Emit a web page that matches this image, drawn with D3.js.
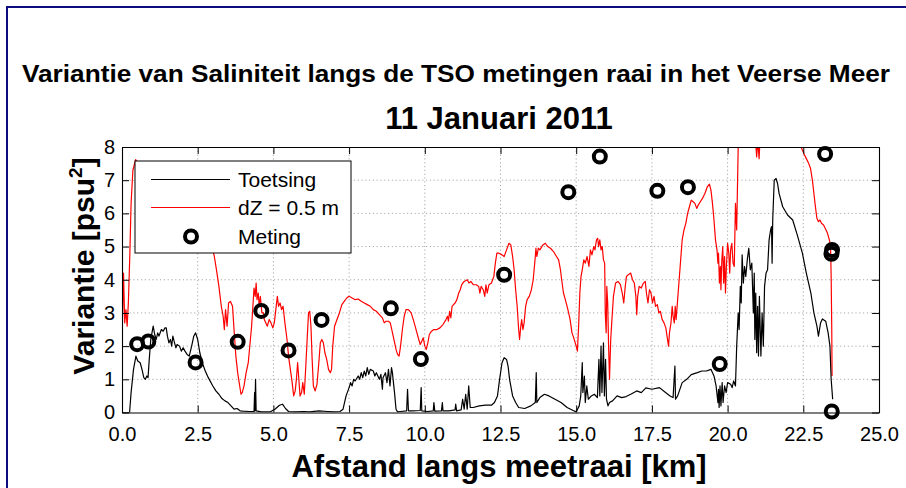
<!DOCTYPE html>
<html>
<head>
<meta charset="utf-8">
<script src="https://cdn.jsdelivr.net/npm/d3@7"></script>
<style>
html,body{margin:0;padding:0;background:#fff;}
svg{display:block;font-family:"Liberation Sans",Arial,Helvetica,sans-serif;}
</style>
</head>
<body>
<div id="chart"></div>
<script>
// ---- Data ----
const xTicks = [0, 2.5, 5, 7.5, 10, 12.5, 15, 17.5, 20, 22.5, 25];
const xTickLabels = ["0.0","2.5","5.0","7.5","10.0","12.5","15.0","17.5","20.0","22.5","25.0"];
const yTicks = [0,1,2,3,4,5,6,7,8];
const yTickLabels = ["0","1","2","3","4","5","6","7","8"];
const seriesNames = ["Toetsing", "dZ = 0.5 m", "Meting"];

// Toetsing (black): [km, variance]
const toetsing = [
[0,0],[0.25,0],[0.3,0.6],[0.38,1.3],[0.46,1.7],[0.52,1.55],[0.6,1.5],[0.66,1.3],[0.72,1.05],[0.77,1.0],[0.82,1.1],[0.86,1.05],
[0.9,1.6],[0.95,2.2],[1.0,2.45],[1.03,2.6],[1.08,2.35],[1.13,2.2],[1.18,2.4],[1.22,2.3],[1.3,2.5],[1.36,2.45],[1.42,2.55],[1.46,2.55],
[1.5,2.3],[1.55,2.1],[1.6,2.2],[1.64,2.0],[1.68,2.3],[1.72,2.15],[1.78,1.95],[1.82,2.05],[1.9,2.0],[1.96,1.85],[2.02,1.95],[2.08,1.85],
[2.15,1.75],[2.22,1.7],[2.3,2.0],[2.37,2.3],[2.43,2.4],[2.5,2.2],[2.57,1.8],[2.65,1.5],[2.75,1.25],[2.85,1.05],[3.0,0.8],[3.1,0.65],
[3.2,0.55],[3.3,0.42],[3.4,0.35],[3.5,0.3],[3.6,0.2],[3.7,0.1],[3.8,0.12],[3.9,0.05],[4.0,0.04],[4.2,0.03],[4.36,0.03],[4.38,0.6],
[4.39,0.05],[4.41,1.0],[4.43,0.05],[4.6,0.02],[4.9,0.02],[5.05,0.1],[5.2,0.22],[5.3,0.25],[5.4,0.12],[5.5,0.03],[5.7,0.02],[6.0,0.03],
[6.2,0.02],[6.5,0.05],[6.8,0.03],[7.0,0.02],[7.2,0.03],[7.3,0.1],[7.4,0.5],[7.5,0.75],[7.55,0.9],[7.6,0.8],[7.65,1.0],[7.7,0.95],
[7.8,1.1],[7.85,1.0],[7.9,1.2],[7.95,1.05],[8.0,1.25],[8.05,1.1],[8.1,1.35],[8.15,1.15],[8.2,1.3],[8.3,1.25],[8.35,1.1],[8.4,1.2],
[8.5,1.0],[8.55,1.15],[8.6,0.7],[8.62,1.05],[8.7,1.2],[8.75,0.9],[8.8,1.3],[8.85,0.8],[8.9,1.35],[8.93,1.2],[9.0,0.6],[9.05,0.1],
[9.1,0.02],[9.2,0.03],[9.4,0.05],[9.43,0.7],[9.46,0.05],[9.6,0.05],[9.85,0.06],[9.88,0.75],[9.9,0.05],[10.1,0.03],[10.28,0.05],
[10.3,0.3],[10.33,0.04],[10.55,0.05],[10.58,0.3],[10.6,0.05],[10.8,0.05],[11.0,0.08],[11.02,0.25],[11.05,0.05],[11.2,0.08],
[11.25,0.4],[11.3,0.1],[11.35,0.55],[11.4,0.1],[11.45,0.8],[11.5,0.15],[11.6,0.15],[11.8,0.2],[12.0,0.22],[12.2,0.22],[12.3,0.3],
[12.4,0.5],[12.47,1.0],[12.55,1.5],[12.62,1.65],[12.7,1.6],[12.75,1.4],[12.8,1.0],[12.9,0.5],[13.0,0.3],[13.1,0.15],[13.3,0.12],
[13.5,0.2],[13.65,0.3],[13.68,1.2],[13.7,0.3],[13.8,0.45],[13.95,0.55],[14.1,0.5],[14.3,0.4],[14.5,0.3],[14.7,0.15],[14.9,0.06],
[15.0,0.02],[15.1,0.2],[15.15,0.5],[15.2,1.5],[15.22,0.6],[15.27,1.1],[15.3,0.3],[15.35,0.8],[15.4,0.4],[15.5,0.5],[15.6,0.55],
[15.7,0.45],[15.75,1.6],[15.78,0.5],[15.82,2.0],[15.85,0.6],[15.9,2.1],[15.93,0.5],[15.97,1.6],[16.0,0.4],[16.05,0.2],[16.1,0.3],
[16.2,0.35],[16.35,0.5],[16.5,0.45],[16.65,0.48],[16.8,0.55],[17.0,0.65],[17.15,0.6],[17.3,0.74],[17.5,0.7],[17.75,0.75],[17.95,0.6],
[18.1,0.5],[18.2,0.45],[18.26,1.4],[18.28,0.4],[18.35,0.5],[18.5,0.9],[18.65,1.0],[18.8,1.14],[19.0,1.2],[19.15,1.25],[19.3,1.25],
[19.45,1.3],[19.55,1.1],[19.62,0.8],[19.68,0.3],[19.7,0.7],[19.72,0.15],[19.75,0.8],[19.78,0.2],[19.82,0.9],[19.85,0.3],[19.9,0.8],
[19.95,0.6],[20.0,0.9],[20.1,0.85],[20.15,0.75],[20.2,0.95],[20.26,0.8],[20.3,2.0],[20.35,3.0],[20.38,2.5],[20.42,3.8],[20.45,3.3],
[20.48,4.75],[20.52,3.9],[20.56,4.4],[20.6,4.1],[20.65,4.6],[20.7,4.95],[20.75,4.3],[20.8,4.5],[20.85,3.0],[20.88,4.2],[20.9,2.2],
[20.93,3.6],[20.96,1.8],[20.99,3.2],[21.02,1.7],[21.05,3.5],[21.1,1.7],[21.14,3.0],[21.18,2.0],[21.22,3.8],[21.27,4.2],[21.32,4.3],
[21.37,5.2],[21.42,5.5],[21.45,5.6],[21.47,4.5],[21.49,5.8],[21.54,7.0],[21.6,7.05],[21.65,6.9],[21.7,6.6],[21.82,6.2],[21.98,5.95],
[22.15,5.8],[22.3,5.35],[22.47,4.8],[22.6,4.2],[22.75,3.6],[22.85,3.0],[22.95,2.6],[23.0,2.3],[23.07,2.7],[23.13,2.82],[23.24,2.75],
[23.32,2.4],[23.38,2.0],[23.42,1.0],[23.47,0.4]
];

// dZ = 0.5 m (red): [km, variance]
const dz05 = [
[0,0],[0.01,2.5],[0.05,4.2],[0.09,2.7],[0.13,3.1],[0.17,2.6],[0.21,3.3],[0.26,4.8],[0.3,6.3],[0.36,7.3],[0.45,7.62],
[0.6,7.4],[0.9,7.2],[1.3,6.9],[1.7,6.6],[2.1,6.3],[2.5,5.9],[2.8,5.4],[3.0,4.9],[3.05,4.7],[3.12,4.3],[3.2,3.8],[3.28,3.2],
[3.34,2.9],[3.38,2.5],[3.42,3.1],[3.47,2.6],[3.52,3.3],[3.58,3.35],[3.65,3.2],[3.7,2.5],[3.76,1.7],[3.82,1.2],[3.87,0.9],
[3.93,0.55],[3.97,0.6],[4.03,0.8],[4.1,1.2],[4.17,1.5],[4.23,2.1],[4.28,2.6],[4.33,3.3],[4.36,3.75],[4.4,3.5],[4.43,3.9],
[4.46,3.4],[4.5,3.6],[4.53,3.2],[4.57,3.5],[4.62,3.0],[4.67,3.0],[4.7,2.8],[4.75,2.7],[4.8,2.6],[4.86,2.8],[4.92,2.7],[4.98,2.55],
[5.03,2.7],[5.08,3.1],[5.13,3.5],[5.17,3.2],[5.22,3.3],[5.27,3.1],[5.32,3.2],[5.38,2.7],[5.45,2.2],[5.5,1.7],[5.56,1.3],[5.62,0.9],
[5.67,0.5],[5.72,0.65],[5.76,1.0],[5.8,1.5],[5.84,1.0],[5.88,0.5],[5.93,0.6],[5.97,0.9],[6.02,0.55],[6.07,1.4],[6.12,2.3],[6.16,3.0],
[6.2,3.05],[6.24,2.6],[6.28,1.6],[6.32,0.8],[6.38,0.65],[6.44,0.85],[6.5,1.5],[6.55,2.1],[6.6,2.2],[6.65,2.1],[6.7,1.8],[6.76,1.6],
[6.82,1.3],[6.88,1.2],[6.92,1.3],[6.96,2.0],[7.02,2.6],[7.1,2.8],[7.18,3.0],[7.26,3.25],[7.34,3.35],[7.42,3.45],[7.5,3.5],[7.6,3.45],
[7.7,3.4],[7.8,3.42],[7.9,3.35],[8.0,3.3],[8.1,3.25],[8.2,3.2],[8.3,3.1],[8.4,3.05],[8.5,2.95],[8.6,2.85],[8.66,2.7],[8.72,2.75],
[8.8,2.75],[8.86,2.7],[8.92,2.45],[8.98,2.2],[9.05,1.9],[9.1,1.75],[9.15,1.7],[9.2,2.0],[9.26,2.5],[9.32,2.9],[9.38,3.1],[9.46,3.1],
[9.55,3.0],[9.62,2.8],[9.68,2.6],[9.74,2.4],[9.8,2.2],[9.85,2.05],[9.9,2.15],[9.95,2.25],[10.0,2.0],[10.05,1.9],[10.1,2.1],
[10.15,2.35],[10.22,2.45],[10.3,2.5],[10.4,2.5],[10.5,2.55],[10.6,2.65],[10.7,2.8],[10.75,2.9],[10.78,2.75],[10.82,3.05],[10.86,2.85],
[10.9,3.2],[10.95,3.25],[11.0,3.3],[11.06,3.4],[11.12,3.6],[11.17,3.7],[11.22,3.85],[11.3,3.95],[11.4,4.0],[11.46,3.9],[11.52,3.95],
[11.6,3.85],[11.7,3.85],[11.78,3.8],[11.82,3.6],[11.86,3.8],[11.93,3.7],[11.98,3.5],[12.02,3.85],[12.06,3.6],[12.12,3.85],[12.2,3.9],
[12.28,4.1],[12.33,4.5],[12.38,4.8],[12.45,4.8],[12.55,4.75],[12.62,4.7],[12.7,4.9],[12.78,5.1],[12.84,5.05],[12.9,4.7],[12.95,4.3],
[13.0,3.7],[13.05,3.2],[13.1,2.5],[13.13,2.2],[13.17,2.6],[13.2,2.8],[13.24,2.5],[13.28,2.7],[13.33,3.2],[13.38,3.4],[13.45,3.5],
[13.52,3.7],[13.58,4.0],[13.64,4.6],[13.67,4.95],[13.7,4.7],[13.75,4.95],[13.8,4.9],[13.9,5.05],[13.98,5.1],[14.06,5.0],[14.15,4.95],
[14.25,4.85],[14.35,4.7],[14.42,4.6],[14.48,4.3],[14.52,4.0],[14.58,3.6],[14.64,3.4],[14.7,3.2],[14.75,3.0],[14.8,2.8],[14.86,2.4],
[14.9,2.3],[14.95,2.15],[15.0,2.0],[15.04,1.85],[15.08,2.6],[15.12,3.6],[15.16,4.1],[15.2,4.3],[15.25,4.6],[15.3,4.5],[15.36,4.7],
[15.42,4.4],[15.47,4.9],[15.52,4.75],[15.58,5.0],[15.62,4.9],[15.67,5.2],[15.71,5.25],[15.74,5.0],[15.78,5.2],[15.82,4.9],[15.86,5.0],
[15.9,4.6],[15.94,4.5],[15.96,3.0],[15.99,2.4],[16.01,3.8],[16.04,3.3],[16.07,2.0],[16.1,1.0],[16.14,2.2],[16.18,2.8],[16.23,3.5],
[16.3,3.9],[16.38,3.95],[16.46,3.85],[16.52,3.6],[16.57,3.3],[16.62,3.8],[16.66,4.1],[16.72,4.15],[16.8,4.2],[16.86,4.0],[16.92,3.9],
[16.97,3.5],[17.0,2.95],[17.03,3.5],[17.08,3.8],[17.15,3.75],[17.22,3.9],[17.28,3.95],[17.32,3.6],[17.37,3.3],[17.42,3.7],[17.47,3.6],
[17.52,3.3],[17.57,3.5],[17.62,3.2],[17.68,3.25],[17.73,3.0],[17.78,3.05],[17.84,2.8],[17.9,2.7],[17.96,2.55],[18.0,2.3],[18.05,2.0],
[18.08,2.4],[18.13,2.7],[18.17,3.2],[18.2,2.9],[18.24,2.7],[18.27,3.2],[18.3,2.8],[18.35,3.4],[18.4,4.0],[18.45,4.6],[18.5,5.2],
[18.56,5.5],[18.62,5.7],[18.68,6.0],[18.74,6.2],[18.8,6.4],[18.86,6.35],[18.92,6.3],[18.98,6.15],[19.03,6.25],[19.1,6.35],[19.17,6.45],
[19.25,6.6],[19.33,6.8],[19.4,6.88],[19.45,6.7],[19.5,6.3],[19.55,5.8],[19.6,5.2],[19.65,4.9],[19.68,4.5],[19.7,4.8],[19.73,3.9],
[19.76,4.4],[19.78,3.7],[19.81,4.6],[19.84,5.0],[19.87,3.9],[19.9,4.7],[19.93,3.6],[19.96,4.4],[20.0,5.1],[20.04,4.8],[20.07,4.2],
[20.1,4.9],[20.14,5.1],[20.18,4.5],[20.22,4.4],[20.26,6.3],[20.3,5.5],[20.33,7.0],[20.36,8.5],[20.5,9],[20.7,9],[20.9,8.5],
[20.96,7.7],[21.0,8.2],[21.04,7.65],[21.08,8.4],[21.3,9],[21.8,9],[22.2,8.6],[22.38,8.1],[22.45,7.95],[22.52,7.8],[22.6,7.65],
[22.68,7.5],[22.74,7.35],[22.8,7.0],[22.85,6.6],[22.9,6.2],[22.95,5.85],[23.0,5.75],[23.05,5.8],[23.1,5.7],[23.17,5.65],[23.25,5.5],
[23.3,5.4],[23.36,5.2],[23.4,5.05],[23.42,4.1],[23.44,2.5],[23.45,1.1]
];

// Meting (circles)
const metingKm  = [0.5, 0.87, 2.43, 3.82, 4.6, 5.5, 6.59, 8.88, 9.87, 12.62, 14.74, 15.78, 17.68, 18.69, 19.74, 23.22, 23.45, 23.43, 23.44];
const metingVal = [2.06, 2.14, 1.51, 2.13, 3.06, 1.87, 2.79, 3.14, 1.61, 4.15, 6.64, 7.71, 6.68, 6.79, 1.46, 7.79, 4.9, 4.78, 0.03];

const title1 = "Variantie van Saliniteit langs de TSO metingen raai in het Veerse Meer";
const title2 = "11 Januari 2011";
const xTitle = "Afstand langs meetraai [km]";
const yTitle = "Variantie [psu";

// ---- Drawing ----
(function draw() {
const W = 906, H = 488;
const svg = d3.select("#chart").append("svg").attr("width", W).attr("height", H);

// figure frame
svg.append("rect").attr("x", 7).attr("y", 7).attr("width", 920).attr("height", 500)
  .attr("fill", "#fff").attr("stroke", "#0c0c7e").attr("stroke-width", 2);

const pL = 122, pR = 879, pT = 147, pB = 412.5;
const x = d3.scaleLinear().domain([0, 25]).range([pL, pR]);
const y = d3.scaleLinear().domain([0, 8]).range([pB, pT]);

// grid
const grid = svg.append("g");
grid.selectAll("line.gx").data(xTicks.slice(1, -1)).enter().append("line")
  .attr("x1", d => x(d)).attr("x2", d => x(d)).attr("y1", pT).attr("y2", pB)
  .attr("stroke", "#a8a8a8").attr("stroke-width", 1).attr("stroke-dasharray", "1.2,2.6");
grid.selectAll("line.gy").data(yTicks.slice(1, -1)).enter().append("line")
  .attr("x1", pL).attr("x2", pR).attr("y1", d => y(d)).attr("y2", d => y(d))
  .attr("stroke", "#a8a8a8").attr("stroke-width", 1).attr("stroke-dasharray", "1.2,2.6");

// clip
svg.append("clipPath").attr("id", "clip").append("rect")
  .attr("x", pL).attr("y", pT).attr("width", pR - pL).attr("height", pB - pT);

const line = d3.line().x(d => x(d[0])).y(d => y(d[1]));
const plot = svg.append("g").attr("clip-path", "url(#clip)");
plot.append("path").datum(dz05).attr("d", line).attr("fill", "none")
  .attr("stroke", "#ff0000").attr("stroke-width", 1.2).attr("stroke-linejoin", "round");
plot.append("path").datum(toetsing).attr("d", line).attr("fill", "none")
  .attr("stroke", "#000").attr("stroke-width", 1.2).attr("stroke-linejoin", "round");

// circles
const meting = metingKm.map((k, i) => [k, metingVal[i]]);
svg.append("g").selectAll("circle").data(meting).enter().append("circle")
  .attr("cx", d => x(d[0])).attr("cy", d => y(d[1])).attr("r", 6)
  .attr("fill", "none").attr("stroke", "#000").attr("stroke-width", 4);

// axes (box with inward ticks)
const tickLen = 7;
const axB = svg.append("g").attr("transform", `translate(0,${pB})`)
  .call(d3.axisBottom(x).tickValues(xTicks).tickFormat((d, i) => xTickLabels[i]).tickSizeInner(-tickLen).tickSizeOuter(0).tickPadding(14));
const axT = svg.append("g").attr("transform", `translate(0,${pT})`)
  .call(d3.axisTop(x).tickValues(xTicks).tickFormat("").tickSizeInner(-tickLen).tickSizeOuter(0));
const axL = svg.append("g").attr("transform", `translate(${pL},0)`)
  .call(d3.axisLeft(y).tickValues(yTicks).tickFormat((d, i) => yTickLabels[i]).tickSizeInner(-tickLen).tickSizeOuter(0).tickPadding(7));
const axR = svg.append("g").attr("transform", `translate(${pR},0)`)
  .call(d3.axisRight(y).tickValues(yTicks).tickFormat("").tickSizeInner(-tickLen).tickSizeOuter(0));
[axB, axT, axL, axR].forEach(a => {
  a.select(".domain").attr("stroke", "#000").attr("stroke-width", 1.1);
  a.selectAll(".tick line").attr("stroke", "#000").attr("stroke-width", 1);
  a.selectAll("text").attr("font-family", '"Liberation Sans",Arial,sans-serif').attr("font-size", 20).attr("fill", "#000");
});
axB.selectAll("text").attr("dy", "0.71em");

// legend
const lg = svg.append("g");
lg.append("rect").attr("x", 135).attr("y", 161).attr("width", 216).attr("height", 92)
  .attr("fill", "#fff").attr("stroke", "#000").attr("stroke-width", 1);
const legRows = [179.5, 207.5, 236.5];
lg.append("line").attr("x1", 151).attr("x2", 230).attr("y1", legRows[0]).attr("y2", legRows[0]).attr("stroke", "#000").attr("stroke-width", 1.2);
lg.append("line").attr("x1", 151).attr("x2", 230).attr("y1", legRows[1]).attr("y2", legRows[1]).attr("stroke", "#ff0000").attr("stroke-width", 1.2);
lg.append("circle").attr("cx", 191).attr("cy", legRows[2]).attr("r", 6).attr("fill", "none").attr("stroke", "#000").attr("stroke-width", 4);
lg.selectAll("text").data(seriesNames).enter().append("text")
  .attr("x", 238).attr("y", (d, i) => legRows[i]).attr("dy", "0.36em")
  .attr("font-size", 21).attr("fill", "#000").text(d => d);

// titles
svg.append("text").attr("x", 22).attr("y", 82).attr("font-size", 23).attr("font-weight", "bold")
  .attr("textLength", 868).attr("lengthAdjust", "spacingAndGlyphs").text(title1);
svg.append("text").attr("x", 499).attr("y", 129).attr("text-anchor", "middle").attr("font-size", 31).attr("font-weight", "bold").text(title2);
svg.append("text").attr("x", 499).attr("y", 477).attr("text-anchor", "middle").attr("font-size", 31).attr("font-weight", "bold").text(xTitle);
const yt = svg.append("text").attr("transform", "translate(94,266) rotate(-90)").attr("text-anchor", "middle")
  .attr("font-size", 30).attr("font-weight", "bold");
yt.append("tspan").text(yTitle);
yt.append("tspan").attr("font-size", 19).attr("dy", -12).text("2");
yt.append("tspan").attr("dy", 12).text("]");
})();
</script>
</body>
</html>
